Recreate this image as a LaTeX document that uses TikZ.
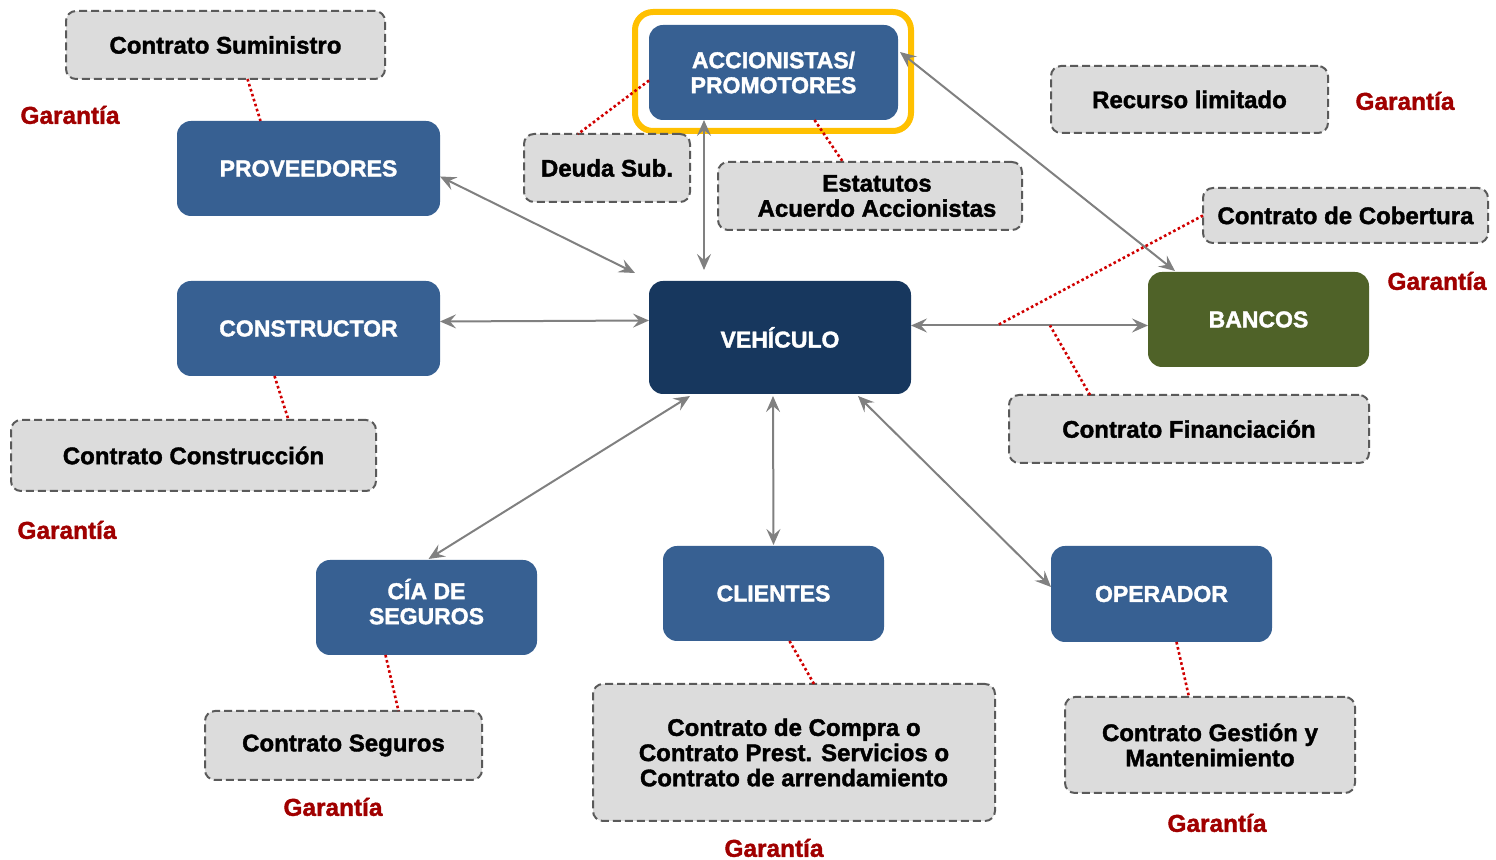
\documentclass[tikz,border=0pt]{standalone}
\usepackage{fontspec}
\setmainfont{Liberation Sans}[BoldFeatures={FakeBold=1.6}]
\usepackage[dvipsnames,rgb]{xcolor}
\usepackage{tikz}
\usetikzlibrary{backgrounds}
\usetikzlibrary{arrows.meta}
\usetikzlibrary{shapes,positioning,calc}

\definecolor{azul}{HTML}{376092}
\definecolor{azuloscuro}{HTML}{17375E}
\definecolor{verde}{HTML}{4F6228}
\definecolor{grisclaro}{HTML}{DCDCDC}
\definecolor{grisborde}{HTML}{5A5A5A}
\definecolor{grisflecha}{HTML}{808080}
\definecolor{rojopunto}{HTML}{D00000}
\definecolor{rojotexto}{HTML}{A00000}
\definecolor{amarillo}{HTML}{FFC000}

\begin{document}
\begin{tikzpicture}[x=0.5pt,y=-0.5pt,
	entidad/.style={fill=azul, rounded corners=7pt, inner sep=0pt, outer sep=0pt, align=center,
		text=white, font=\bfseries\fontsize{11.5}{12.5}\selectfont},
	contrato/.style={fill=grisclaro, draw=grisborde, line width=1pt, dash pattern=on 4pt off 2pt,
		rounded corners=5pt, inner sep=0pt, outer sep=0pt, align=center,
		font=\bfseries\fontsize{12}{12.6}\selectfont},
	garantia/.style={text=rojotexto, font=\bfseries\fontsize{12.2}{13}\selectfont},
	flujo/.style={draw=grisflecha, line width=1pt, {Stealth[length=8pt,width=7pt,inset=3pt]}-{Stealth[length=8pt,width=7pt,inset=3pt]}},
	enlace/.style={draw=rojopunto, line width=1.3pt, dash pattern=on 1.3pt off 1.3pt}]
	\useasboundingbox (0,0) rectangle (1496,860);
	% entidades
	\node[entidad, minimum width=124.5pt, minimum height=47.5pt] (acc) at (773.5,72.5) {ACCIONISTAS/\\PROMOTORES};
	\node[entidad, minimum width=131.5pt, minimum height=47.5pt] (prov) at (308.5,168.5) {PROVEEDORES};
	\node[entidad, minimum width=131.5pt, minimum height=47.5pt] (con) at (308.5,328.5) {CONSTRUCTOR};
	\node[entidad, fill=azuloscuro, minimum width=131pt, minimum height=56.5pt] (veh) at (780,337.5) {VEHÍCULO};
	\node[entidad, fill=verde, minimum width=110.5pt, minimum height=47.5pt] (ban) at (1258.5,319.5) {BANCOS};
	\node[entidad, minimum width=110.5pt, minimum height=47.5pt] (cia) at (426.5,607.5) {CÍA DE\\SEGUROS\\[-6.5pt]\mbox{}};
	\node[entidad, minimum width=110.5pt, minimum height=47.5pt] (cli) at (773.5,593.5) {CLIENTES};
	\node[entidad, minimum width=110.5pt, minimum height=48pt] (ope) at (1161.5,594) {OPERADOR};
	\draw[amarillo, line width=3pt, rounded corners=9pt] ($(acc.north west)+(-14,-13)$) rectangle ($(acc.south east)+(13,11)$);
	% contratos
	\node[contrato, minimum width=159.5pt, minimum height=34pt] (sum) at (225.5,45) {Contrato Suministro};
	\node[contrato, minimum width=83pt, minimum height=34pt] (deu) at (607,168) {Deuda Sub.};
	\node[contrato, minimum width=152pt, minimum height=34pt] (est) at (870,196) {\hspace{7pt}Estatutos\\\hspace{7pt}Acuerdo Accionistas};
	\node[contrato, minimum width=138.5pt, minimum height=33.5pt] (rec) at (1189.5,99.5) {Recurso limitado};
	\node[contrato, minimum width=142.5pt, minimum height=27.5pt] (cob) at (1345.5,215.5) {Contrato de Cobertura};
	\node[contrato, minimum width=182.5pt, minimum height=35.5pt] (ccon) at (193.5,455.5) {Contrato Construcción};
	\node[contrato, minimum width=180pt, minimum height=34pt] (fin) at (1189,429) {Contrato Financiación};
	\node[contrato, minimum width=138.5pt, minimum height=34.5pt] (cseg) at (343.5,745.5) {Contrato Seguros};
	\node[contrato, minimum width=201pt, minimum height=68.5pt] (ccom) at (794,752.5) {Contrato de Compra o\\Contrato Prest. Servicios o\\Contrato de arrendamiento};
	\node[contrato, minimum width=145pt, minimum height=48pt] (cges) at (1210,745) {Contrato Gestión y\\Mantenimiento};
	% garantias
	\node[garantia] (g1) at (70,115) {Garantía};
	\node[garantia] (g2) at (1405,101) {Garantía};
	\node[garantia] (g3) at (1437,281) {Garantía};
	\node[garantia] (g4) at (67,530) {Garantía};
	\node[garantia] (g5) at (333,807) {Garantía};
	\node[garantia] (g6) at (774,848) {Garantía};
	\node[garantia] (g7) at (1217,823) {Garantía};
	% flujos
	\draw[flujo] ($(prov.east)+(0,8)$) -- ($(veh.north west)+(-14,-8)$);
	\draw[flujo] ($(acc.south west)+(55,0)$) -- ($(veh.north west)+(55,-11)$);
	\draw[flujo] ($(acc.north east)+(2,27)$) -- ($(ban.north west)+(27,-1)$);
	\draw[flujo] ($(con.east)+(0,-7)$) -- ($(veh.west)+(0,-17)$);
	\draw[flujo] ($(veh.east)+(0,-12)$) -- ($(ban.west)+(0,6)$);
	\draw[flujo] ($(veh.south west)+(41,2)$) -- ($(cia.north)+(2,-1)$);
	\draw[flujo] ($(veh.south)+(-7,2)$) -- ($(cli.north)+(0,-1)$);
	\draw[flujo] ($(veh.south east)+(-53,2)$) -- ($(ope.west)+(0,-7)$);
	\coordinate (pcob) at ($(veh.east)+(86,-12)$);
	\coordinate (pfin) at ($(veh.east)+(139,-12)$);
	% enlaces
	\draw[enlace] ($(sum.south)+(22,0)$) -- ($(prov.north)+(-48,0)$);
	\draw[enlace] ($(acc.west)+(0,8)$) -- ($(deu.north)+(-29,0)$);
	\draw[enlace] ($(acc.south)+(41,0)$) -- ($(est.north)+(-27,0)$);
	\draw[enlace] (cob.west) -- (pcob);
	\draw[enlace] ($(fin.north)+(-99,0)$) -- (pfin);
	\draw[enlace] ($(con.south)+(-34,0)$) -- ($(ccon.north)+(95,0)$);
	\draw[enlace] ($(cia.south)+(-41,0)$) -- ($(cseg.north)+(55,0)$);
	\draw[enlace] ($(cli.south)+(16,0)$) -- ($(ccom.north)+(20,0)$);
	\draw[enlace] ($(ope.south)+(15,0)$) -- ($(cges.north)+(-21,0)$);
\end{tikzpicture}
\end{document}
